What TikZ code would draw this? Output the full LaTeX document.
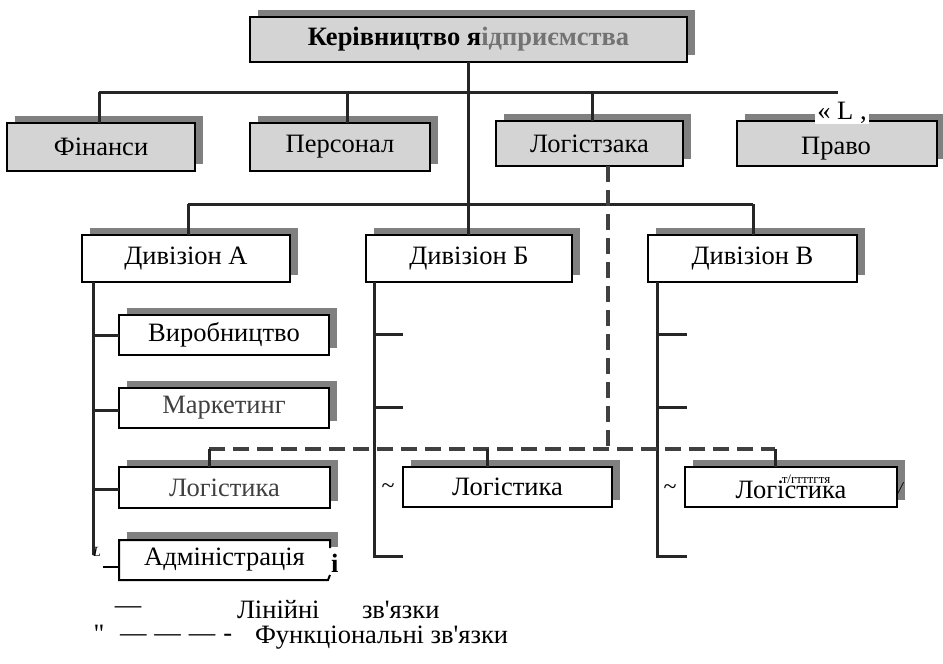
\documentclass[tikz,border=0pt]{standalone}
\usepackage{fontspec}
\setmainfont{Liberation Serif}
\usetikzlibrary{shadows,calc}
\begin{document}
\begin{tikzpicture}[x=1pt,y=-1pt,
  every node/.style={font=\fontsize{26.5}{30}\selectfont, inner sep=0pt, outer sep=0pt},
  unitbox/.style={draw=black, line width=2pt, fill=white,
    general shadow={fill=black!50, shadow xshift=8pt, shadow yshift=7pt}},
  headbox/.style={unitbox, fill=black!17},
  link/.style={line width=3pt, black!85},
  funclink/.style={line width=4pt, black!75, dash pattern=on 16pt off 8pt},
  glyph/.style={font=\fontsize{24}{26}\selectfont}
]
\useasboundingbox (0,0) rectangle (943,664);

% --- management level ---
\node[headbox, minimum width=437pt, minimum height=45pt] (head) at (468.5,39.5)
  {\textbf{Керівництво я}\textcolor{black!55}{\textbf{ідприємства}}};

% --- staff departments ---
\node[headbox, minimum width=188pt, minimum height=48pt] (fin)   at (101,147)   {Фінанси};
\node[headbox, minimum width=180pt, minimum height=48pt] (pers)  at (340,147)   {Персонал};
\node[headbox, minimum width=187pt, minimum height=45pt] (log)   at (589.5,143.5) {Логістзака};
\node[headbox, minimum width=200pt, minimum height=45pt] (pravo) at (837,143.5) {};
\node (pravotext) at (836,149) {Право};
\node[fill=white, inner xsep=2pt] (pravomark) at (842,113) {« L ,};

% --- divisions ---
\node[unitbox, minimum width=208pt, minimum height=47pt] (divA) at (186,258.5)   {Дивізіон А};
\node[unitbox, minimum width=206pt, minimum height=47pt] (divB) at (469,258.5)   {Дивізіон Б};
\node[unitbox, minimum width=209pt, minimum height=47pt] (divC) at (752.5,258.5) {Дивізіон В};

% --- units of division A ---
\node[unitbox, minimum width=210pt, minimum height=40pt] (vir)  at (224,335)   {Виробництво};
\node[unitbox, minimum width=210pt, minimum height=40pt] (mark) at (224,408)   {\textcolor{black!75}{Маркетинг}};
\node[unitbox, minimum width=211pt, minimum height=41pt] (logA) at (224.5,487.5) {\textcolor{black!75}{Логістика}};

% administration box with a broken right side
\node[minimum width=211pt, minimum height=40pt] (adm) at (224.5,560) {};
\fill[black!50] ($(adm.north west)+(8,-8)$) rectangle ($(adm.north east)+(8,7)$);
\fill[white] (adm.north west) rectangle (adm.south east);
\draw[line width=2pt] ($(adm.north east)+(0,8)$) -- (adm.north east) -- (adm.north west)
  -- (adm.south west) -- ($(adm.south east)+(-2,0)$) -- ($(adm.south east)+(0,-5)$);
\node at (adm.center) {Адміністрація};
\node[anchor=west] (admi) at ($(adm.east)+(1,3)$) {\textbf{і}};

% --- logistics units of divisions B and C ---
\node[unitbox, minimum width=209pt, minimum height=40pt] (logB) at (507.5,487) {Логістика};
\node[unitbox, minimum width=212pt, minimum height=40pt] (logC) at (791,487) {};
\node[font=\fontsize{13}{14}\selectfont] (logCover) at (806,479) {т/гтттгтя};
\node (logCtext) at (791,490) {Логістика};
\node[font=\fontsize{18}{20}\selectfont] (logCmark) at (901,489) {\textit{/}};

% --- line links ---
\coordinate (busL) at (99,92);
\coordinate (busR) at (838,92);
\coordinate (persTap) at (347,92);
\coordinate (logTap) at (592,92);
\draw[link] (busL) -- (busR);
\draw[link] (head.south) -- (head.south |- divB.north);
\draw[link] (busL) -- (busL |- fin.north);
\draw[link] (persTap) -- (persTap |- pers.north);
\draw[link] (logTap) -- (logTap |- log.north);

\coordinate (divL) at (188,204);
\coordinate (divR) at (753,204);
\draw[link] (divL) -- (divR);
\draw[link] (divL) -- (divL |- divA.north);
\draw[link] (divR) -- (divR |- divC.north);

% division A trunk
\coordinate (trA) at (93,282);
\coordinate (trAend) at (93,555);
\draw[link] (trA) -- (trAend);
\draw[link] (vir.west -| trA) -- (vir.west);
\draw[link] ($(mark.west -| trA)+(0,2)$) -- ($(mark.west)+(0,2)$);
\draw[link] ($(logA.west -| trA)+(0,2)$) -- ($(logA.west)+(0,2)$);
\node[font=\fontsize{14}{16}\selectfont\itshape] (trAmark) at (97,552) {L};
\draw[line width=1.5pt] ($(adm.west)+(-16,7)$) -- ($(adm.west)+(0,7)$);

% division B trunk
\coordinate (trB) at (374,282);
\coordinate (trBend) at (374,556);
\draw[link] (trB) -- (trBend) -- ++(29,0);
\draw[link] ($(trB)+(0,52)$) -- ++(29,0);
\draw[link] ($(trB)+(0,125)$) -- ++(29,0);
\node[glyph] (trBmark) at (388,489) {\textasciitilde};

% division C trunk
\coordinate (trC) at (657,282);
\coordinate (trCend) at (657,556);
\draw[link] (trC) -- (trCend) -- ++(30,0);
\draw[link] ($(trC)+(0,52)$) -- ++(30,0);
\draw[link] ($(trC)+(0,125)$) -- ++(30,0);
\node[glyph] (trCmark) at (670,490) {\textasciitilde};

% --- functional links ---
\coordinate (logDrop) at ($(log.south)+(18.5,0)$);
\coordinate (fA) at (209,449);
\coordinate (fB) at (487,449);
\coordinate (fC) at (775,449);
\draw[funclink] (logDrop) -- (logDrop |- fA);
\draw[funclink] (fA) -- (fC);
\draw[link] (fA) -- (fA |- logA.north);
\draw[link] (fB) -- (fB |- logB.north);
\draw[link] (fC) -- (fC |- logC.north);

% --- legend ---
\node (legLine) at (128,610) {—};
\node[anchor=west] (legLineA) at (237,610) {Лінійні};
\node[anchor=west] (legLineB) at (362,610) {зв\textquotesingle язки};
\node (legQuote) at (99,634) {\textquotedbl};
\node[anchor=west] (legDash) at (120,638) {—\hspace{8pt}—\hspace{8pt}—\hspace{8pt}-};
\node[anchor=west] (legFunc) at (255,638) {Функціональні зв\textquotesingle язки};
\end{tikzpicture}
\end{document}
